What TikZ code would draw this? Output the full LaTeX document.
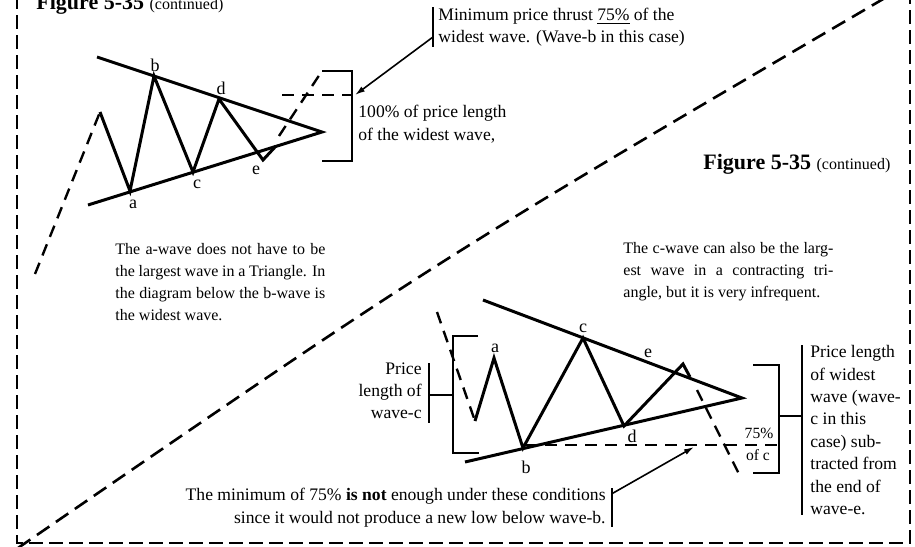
\documentclass[tikz,border=0pt]{standalone}
\usepackage{fontspec}
\setmainfont{Liberation Serif}
\usetikzlibrary{arrows.meta}
\newcommand{\notefont}{\fontsize{8.8}{11.2}\selectfont}
\newcommand{\parafont}{\fontsize{8}{11}\selectfont}
\newcommand{\lblfont}{\fontsize{9}{10}\selectfont}
\newcommand{\figfont}{\fontsize{11}{13}\selectfont}
\newcommand{\capfont}{\fontsize{8}{9}\selectfont}
\newcommand{\jline}[1]{\makebox[105pt][s]{#1}}

\begin{document}
\begin{tikzpicture}[
  x=0.5pt, y=-0.5pt,
  frame/.style={line width=1pt, dash pattern=on 7pt off 3pt},
  diag/.style={line width=1.3pt, dash pattern=on 7.5pt off 4pt},
  trend/.style={line width=1.5pt},
  wave/.style={line width=1.5pt},
  guide/.style={line width=1.2pt, dash pattern=on 6pt off 4pt},
  brk/.style={line width=1pt},
  pointer/.style={-{Latex[length=5pt, width=3pt]}, line width=0.8pt},
  note/.style={font=\notefont, inner sep=0pt},
  para/.style={font=\parafont, inner sep=0pt, anchor=north west, align=left},
  lbl/.style={font=\lblfont, inner sep=0pt},
]
\useasboundingbox (0,0) rectangle (915,546);
% frame, split in two by the long dashed diagonal
\draw[frame] (17,-5) -- (17,543) -- (910,543) -- (910,-5);
\draw[diag] (18,548) .. controls (440,258) .. (890,-5);

% ---- upper panel: wave-b is the widest ----
\node[anchor=base west, inner sep=0pt] (figtop) at (36,10) {\figfont\textbf{Figure 5-35} \capfont(continued)};
\coordinate (tu0) at (97,57);
\coordinate (tl0) at (88,205);
\coordinate (tapex) at (322,132);
\draw[trend] (tu0) -- (tapex) -- (tl0);
\coordinate (t0) at (100,112);
\coordinate (ta) at (130,191);
\coordinate (tb) at (154,76);
\coordinate (tc) at (193,172);
\coordinate (td) at (219,99);
\coordinate (te) at (263,160);
\coordinate (tf) at (276,146);
\draw[wave] (t0) -- (ta) -- (tb) -- (tc) -- (td) -- (te) -- (tf);
\draw[guide] (35,274) -- (t0);
\node[lbl] (lta) at (133,204) {a};
\node[lbl] (ltb) at (155,65) {b};
\node[lbl] (ltc) at (197,184) {c};
\node[lbl] (ltd) at (221,88) {d};
\node[lbl] (lte) at (256,170) {e};
% projection of the b-wave from the end of wave-e
\coordinate (tbrk1) at (322,71);
\coordinate (tbrk2) at (352,71);
\coordinate (tbrk3) at (352,161);
\coordinate (tbrk4) at (322,161);
\coordinate (tbrkm) at (352,95);
\coordinate (tarrow) at (355,95);
\draw[brk] (tbrk1) -- (tbrk2) -- (tbrk3) -- (tbrk4);
\draw[guide] (279,136) -- (tbrk1);
\draw[guide] (282,95) -- (tbrkm);
\node[note, anchor=west, align=left] (full) at (358,124) {100\% of price length\\of the widest wave,};
\node[note, anchor=west, align=left] (thrust) at (438,27) {Minimum price thrust \underline{75\%} of the\\widest wave. (Wave-b in this case)};
\draw[brk] ([xshift=-2.5pt]thrust.north west) -- ([xshift=-2.5pt]thrust.south west);
\draw[pointer] ([xshift=-2.5pt, yshift=-5pt]thrust.west) -- (tarrow);
\node[para] (paraa) at (115,243) {\jline{The a-wave does not have to be}\\\jline{the largest wave in a Triangle. In}\\\jline{the diagram below the b-wave is}\\the widest wave.};

% ---- lower panel: wave-c is the widest ----
\node[anchor=base west, inner sep=0pt] (figmid) at (703,169) {\figfont\textbf{Figure 5-35} \capfont(continued)};
\node[para] (parac) at (623,242) {\jline{The c-wave can also be the larg-}\\\jline{est wave in a contracting tri-}\\angle, but it is very infrequent.};
\coordinate (bu0) at (483,300);
\coordinate (bl0) at (465,462);
\coordinate (bapex) at (742,398);
\draw[trend] (bu0) -- (bapex) -- (bl0);
\coordinate (b0) at (475,421);
\coordinate (ba) at (494,358);
\coordinate (bb) at (523,448);
\coordinate (bc) at (583,338);
\coordinate (bd) at (624,426);
\coordinate (be) at (683,364);
\coordinate (bf) at (690,377);
\draw[wave] (b0) -- (ba) -- (bb) -- (bc) -- (bd) -- (be) -- (bf);
\draw[guide] (437,312) -- (b0);
\draw[guide] (697,390) -- (740,476);
\node[lbl] (lba) at (495,348) {a};
\node[lbl] (lbb) at (526,467) {b};
\node[lbl] (lbc) at (583,328) {c};
\node[lbl] (lbd) at (632,436) {d};
\node[lbl] (lbe) at (648,353) {e};
% length of wave-c, left
\coordinate (cbrk1) at (478,336);
\coordinate (cbrk2) at (453,336);
\coordinate (cbrk3) at (453,453);
\coordinate (cbrk4) at (479,453);
\coordinate (cbrkm) at (453,395);
\coordinate (cbar) at (429,395);
\draw[brk] (cbrk1) -- (cbrk2) -- (cbrk3) -- (cbrk4);
\draw[brk] (cbrkm) -- (cbar);
\draw[brk] (429,363) -- (429,423);
\node[note, anchor=north east, align=right] (pricec) at (422,362) {Price\\length of\\wave-c};
% wave-c subtracted from the end of wave-e, right
\coordinate (ebrk1) at (753,365);
\coordinate (ebrk2) at (779,365);
\coordinate (ebrk3) at (779,473);
\coordinate (ebrk4) at (753,473);
\coordinate (ebrkm) at (779,416);
\coordinate (ebar) at (802,416);
\coordinate (elow) at (779,445);
\coordinate (barrow) at (694,447);
\draw[brk] (ebrk1) -- (ebrk2) -- (ebrk3) -- (ebrk4);
\draw[brk] (ebrkm) -- (ebar);
\draw[guide] (525,445) -- (elow);
\node[lbl, font=\fontsize{7.8}{9}\selectfont] (pct) at (759,433) {75\%};
\node[lbl, font=\fontsize{7.8}{9}\selectfont] (ofc) at (758,455) {of c};
\node[note, anchor=north west, align=left] (pricelen) at (810,345) {Price length\\of widest\\wave (wave-\\c in this\\case) sub-\\tracted from\\the end of\\wave-e.};
\draw[brk] ([xshift=-4pt]pricelen.north west) -- ([xshift=-4pt]pricelen.south west);
\node[note, anchor=north east, align=right] (notenough) at (606,488) {The minimum of 75\% \textbf{is not} enough under these conditions\\since it would not produce a new low below wave-b.};
\draw[brk] ([xshift=3pt]notenough.north east) -- ([xshift=3pt]notenough.south east);
\draw[pointer] ([xshift=3pt, yshift=7pt]notenough.east) -- (barrow);
\end{tikzpicture}
\end{document}
